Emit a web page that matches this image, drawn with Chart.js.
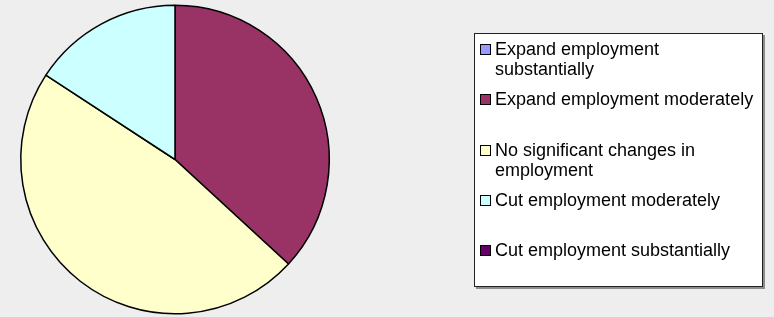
<!DOCTYPE html>
<html>
<head>
<meta charset="utf-8">
<script src="https://cdn.jsdelivr.net/npm/chart.js@4/dist/chart.umd.min.js"></script>
<style>
  html, body { margin: 0; padding: 0; background: #eeeeee; }
  #chart { display: block; }
</style>
</head>
<body>
<canvas id="chart" width="774" height="317"></canvas>
<script>
// categories and values (counts)
const labels = [
  'Expand employment substantially',
  'Expand employment moderately',
  'No significant changes in employment',
  'Cut employment moderately',
  'Cut employment substantially'
];
const values = [0, 7, 9, 3, 0];
const colors = ['#9999ff', '#993366', '#ffffcc', '#ccffff', '#660066'];

// wrap a label into lines that fit the legend width
function wrapText(ctx, text, maxWidth) {
  const words = text.split(' ');
  const lines = [];
  let line = '';
  words.forEach(word => {
    const test = line ? line + ' ' + word : word;
    if (ctx.measureText(test).width > maxWidth && line) {
      lines.push(line);
      line = word;
    } else {
      line = test;
    }
  });
  if (line) lines.push(line);
  return lines;
}

const boxLegend = {
  id: 'boxLegend',
  afterDraw(chart) {
    const ctx = chart.ctx;
    const box = { x: 474, y: 33, w: 288, h: 253 };
    ctx.save();
    // shadow + box
    ctx.fillStyle = '#8c8c8c';
    ctx.fillRect(box.x + 2, box.y + 2, box.w + 1, box.h + 1);
    ctx.fillStyle = '#ffffff';
    ctx.fillRect(box.x, box.y, box.w, box.h);
    ctx.strokeStyle = '#222222';
    ctx.lineWidth = 1;
    ctx.strokeRect(box.x + 0.5, box.y + 0.5, box.w, box.h);

    ctx.font = '18px "Liberation Sans", Arial, sans-serif';
    ctx.textBaseline = 'alphabetic';
    ctx.textAlign = 'left';
    const ds = chart.data.datasets[0];
    chart.data.labels.forEach((label, i) => {
      const baseline = 55 + i * 50.25;
      ctx.fillStyle = ds.backgroundColor[i];
      ctx.fillRect(481, Math.round(baseline) - 10, 9, 9);
      ctx.strokeStyle = '#000000';
      ctx.strokeRect(480.5, Math.round(baseline) - 10.5, 10, 10);
      ctx.fillStyle = '#000000';
      wrapText(ctx, label, 266).forEach((line, j) => {
        ctx.fillText(line, 495, baseline + j * 20);
      });
    });
    ctx.restore();
  }
};

new Chart(document.getElementById('chart'), {
  type: 'pie',
  data: {
    labels: labels,
    datasets: [{
      data: values,
      backgroundColor: colors,
      borderColor: '#000000',
      borderWidth: 1.5,
      hoverOffset: 0
    }]
  },
  options: {
    responsive: false,
    animation: false,
    events: [],
    layout: {
      padding: { left: 20, right: 444, top: 4, bottom: 2 }
    },
    plugins: {
      legend: { display: false },
      tooltip: { enabled: false }
    }
  },
  plugins: [boxLegend]
});
</script>
</body>
</html>
